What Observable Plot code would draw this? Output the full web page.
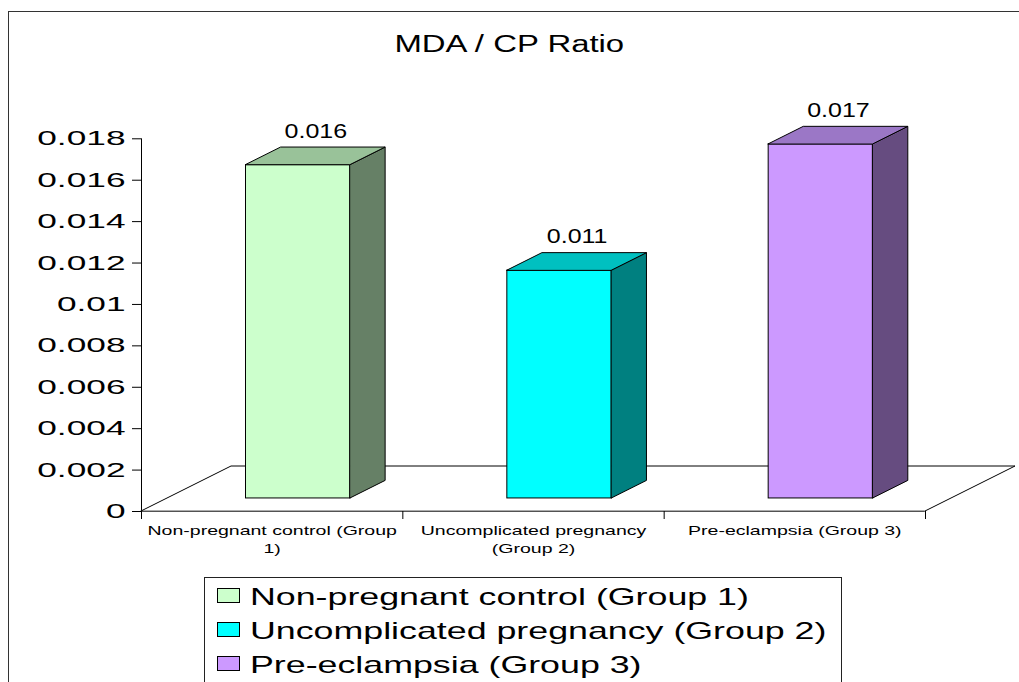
<!DOCTYPE html>
<html>
<head>
<meta charset="utf-8">
<script src="https://cdn.jsdelivr.net/npm/d3@7"></script>
<script src="https://cdn.jsdelivr.net/npm/@observablehq/plot@0.6"></script>
<style>
  body { margin: 0; background: #fff; overflow: hidden; }
  #wrap { position: relative; width: 1019px; height: 682px; overflow: hidden;
          font-family: "Liberation Sans", Arial, sans-serif; color: #000; background: #fff; }
  #frame { position: absolute; left: 8px; top: 11px; width: 1100px; height: 1000px;
           border: 1.5px solid #333; box-sizing: border-box; }
  #chart { position: absolute; left: 0; top: 0; }
  #title { position: absolute; left: 0; width: 1019px; top: 33px; text-align: center;
           font-size: 23px; line-height: 23px; white-space: nowrap; }
  #title span { display: inline-block; transform: scaleX(1.43); transform-origin: center; }
  #legend { position: absolute; left: 204px; top: 577px; width: 638px; height: 140px;
            border: 1px solid #222; box-sizing: border-box; background: #fff; }
  .sw { position: absolute; width: 23px; height: 15px; border: 1.5px solid #000; box-sizing: border-box; }
  .lt { position: absolute; font-size: 24px; line-height: 24px; white-space: nowrap;
        transform: scaleX(1.49); transform-origin: left center; }
</style>
</head>
<body>
<div id="wrap">
  <div id="frame"></div>
  <div id="chart"></div>
  <div id="title"><span>MDA / CP Ratio</span></div>
  <div id="legend"></div>
</div>
<script>
// ---- data ----
const categories = ["Non-pregnant control (Group 1)", "Uncomplicated pregnancy (Group 2)", "Pre-eclampsia (Group 3)"];
const axisLabels = ["Non-pregnant control (Group\n1)", "Uncomplicated pregnancy\n(Group 2)", "Pre-eclampsia (Group 3)"];
const values = [0.0161, 0.0110, 0.0171];
const valueLabels = ["0.016", "0.011", "0.017"];
const yTicks = [0, 0.002, 0.004, 0.006, 0.008, 0.01, 0.012, 0.014, 0.016, 0.018];
const frontColors = ["#CCFFCC", "#00FFFF", "#CC99FF"];
const sideColors = ["#668066", "#008080", "#664C80"];
const topColors = ["#99C299", "#00C0C0", "#9B77C6"];

// ---- layout ----
const W = 1019, H = 682, mL = 141, mR = 94, mT = 138.3, mB = 171;
const yMax = 0.018;
const n = categories.length;
const pxX = (W - mL - mR) / n, pxY = (H - mT - mB) / yMax;
const DX = 90 / pxX, DY = 45 / pxY;       // floor depth in data units
const dF = 0.29, dB = 0.39, b0 = 0.3, b1 = 0.7;

const bars = categories.map((c, i) => ({
  i, c, v: values[i], label: valueLabels[i],
  front: frontColors[i], side: sideColors[i], topc: topColors[i]
}));
const floor = [{y: 0, x1: 0, x2: n}, {y: DY, x1: DX, x2: n + DX}];
const sideFaces = bars.flatMap(b => [dF, dF + dB].map(d => ({
  i: b.i, fill: b.side, x: b.i + b1 + d * DX, y1: d * DY, y2: b.v + d * DY
})));
const topFaces = bars.flatMap(b => [dF, dF + dB].map(d => ({
  i: b.i, fill: b.topc, y: b.v + d * DY, x1: b.i + b0 + d * DX, x2: b.i + b1 + d * DX
})));

const svg = Plot.plot({
  width: W, height: H,
  marginLeft: mL, marginRight: mR, marginTop: mT, marginBottom: mB,
  style: {background: "none", fontFamily: "Liberation Sans, Arial, sans-serif", fontSize: "20.5px", color: "#000", overflow: "visible"},
  x: {type: "linear", domain: [0, n], ticks: d3.range(n + 1), tickSize: 8, tickFormat: () => "", label: null},
  y: {domain: [0, yMax], ticks: yTicks, tickSize: 9, tickPadding: 7, tickFormat: d => String(+d.toFixed(3)), label: null},
  color: {type: "identity"},
  marks: [
    Plot.ruleX([0], {y1: 0, y2: yMax, stroke: "#000"}),
    Plot.areaX(floor, {y: "y", x1: "x1", x2: "x2", fill: "#fff", stroke: "#000", strokeWidth: 1}),
    Plot.rect(bars, {x1: b => b.i + b0 + dF * DX, x2: b => b.i + b1 + dF * DX,
                     y1: () => dF * DY, y2: b => b.v + dF * DY, fill: "front", stroke: "#000", strokeWidth: 1}),
    Plot.areaY(sideFaces, {x: "x", y1: "y1", y2: "y2", z: "i", fill: "fill", stroke: "#000", strokeWidth: 1}),
    Plot.areaX(topFaces, {y: "y", x1: "x1", x2: "x2", z: "i", fill: "fill", stroke: "#000", strokeWidth: 1}),
    Plot.text(bars, {x: b => b.i + 0.5 + (dF + dB / 2) * DX, y: b => b.v + (dF + dB) * DY,
                     text: "label", dy: -16.4, fontSize: 20, fill: "#000"}),
    Plot.text(axisLabels, {x: (d, i) => i + 0.5, y: () => 0, text: d => d, lineAnchor: "top",
                           lineHeight: 1.385, dy: 11, fontSize: 13, fill: "#000"})
  ]
});
document.getElementById("chart").appendChild(svg);

function stretchNodes(nodes, k) {
  nodes.forEach(t => {
    const parts = t.querySelectorAll("tspan");
    (parts.length ? Array.from(parts) : [t]).forEach(node => {
      const L = node.getComputedTextLength();
      if (L > 0) {
        node.setAttribute("textLength", L * k);
        node.setAttribute("lengthAdjust", "spacingAndGlyphs");
      }
    });
  });
}
stretchNodes(svg.querySelectorAll('g[aria-label^="y-axis"] text'), 1.72);
const textGroups = svg.querySelectorAll('g[aria-label="text"]');
if (textGroups[0]) stretchNodes(textGroups[0].querySelectorAll("text"), 1.25);
if (textGroups[1]) stretchNodes(textGroups[1].querySelectorAll("text"), 1.5);

// legend
const wrap = document.getElementById("wrap");
categories.forEach((c, i) => {
  const sw = document.createElement("div");
  sw.className = "sw";
  sw.style.left = "217px";
  sw.style.top = (588 + 34 * i) + "px";
  sw.style.background = frontColors[i];
  wrap.appendChild(sw);
  const t = document.createElement("div");
  t.className = "lt";
  t.style.left = "250px";
  t.style.top = (584.7 + 34 * i) + "px";
  t.textContent = c;
  wrap.appendChild(t);
});
</script>
</body>
</html>
